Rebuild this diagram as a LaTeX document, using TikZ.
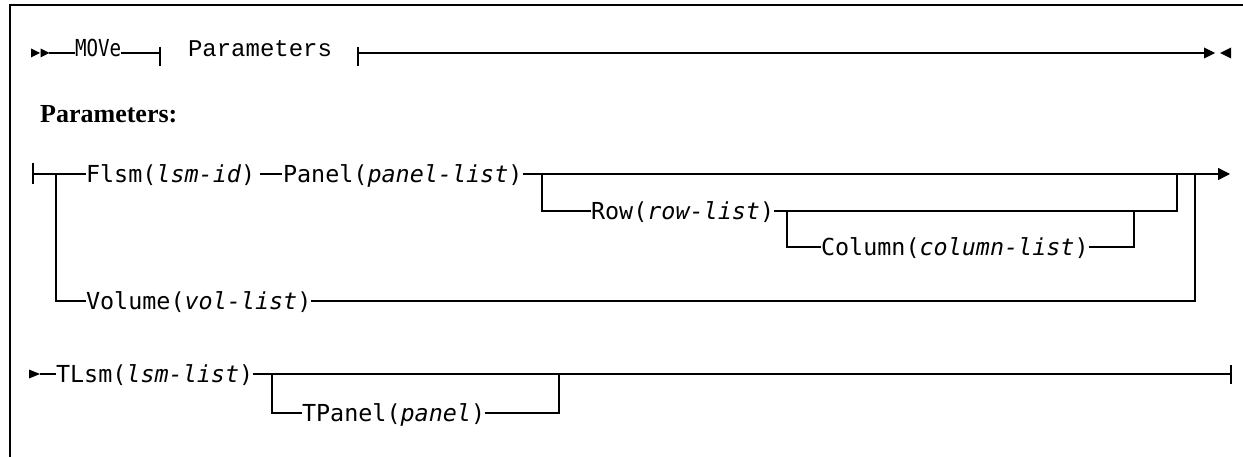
\documentclass[tikz,border=0pt]{standalone}
\usepackage{fontspec}
\setmainfont{Liberation Serif}
\newfontfamily\synfont{DejaVu Sans Mono}
\newfontfamily\cmdfont[FakeStretch=0.82]{DejaVu Sans Mono}
\newfontfamily\reffont{Liberation Mono}
\usetikzlibrary{arrows.meta}

\tikzset{
  syn/.style={inner sep=0pt, outer sep=0pt, text height=17pt, text depth=0pt,
    anchor=west, font=\synfont\fontsize{23.4}{28}\selectfont},
  cmd/.style={inner sep=0pt, outer sep=0pt, anchor=base west,
    font=\cmdfont\fontsize{23.4}{28}\selectfont},
  ref/.style={inner sep=0pt, outer sep=0pt, anchor=base west,
    font=\reffont\fontsize{24}{28}\selectfont},
  rail/.style={line width=1.3pt},
  bar/.style={line width=2pt},
}

\begin{document}
\begin{tikzpicture}[x=1pt, y=-1pt]
    \useasboundingbox (0,0) rectangle (1243,457);
    % Frame
    \draw[line width=2.4pt] (10,457) -- (10,5) -- (1243,5);
    % Main line
    \coordinate (go) at (49,53);
    \coordinate (lcall) at (160,53);
    \coordinate (rcall) at (358,53);
    \coordinate (stop) at (1204,53);
    \fill (31,48.5) -- (40,53) -- (31,57.5) -- cycle;
    \fill (40.5,48.5) -- (49.5,53) -- (40.5,57.5) -- cycle;
    \node[cmd] (move) at (75,56.5) {MOVe};
    \node[ref] (params) at (188,56.5) {Parameters};
    \draw[rail] (go) -- (move.west |- go);
    \draw[rail] (move.east |- go) -- (lcall);
    \draw[bar] (160,47) -- (160,66);
    \draw[bar] (358,47) -- (358,66);
    \draw[rail] (rcall) -- (stop);
    \fill (1204,47.5) -- (1215,53) -- (1204,58.5) -- cycle;
    \fill (1231,47.5) -- (1220,53) -- (1231,58.5) -- cycle;
    % Fragment title
    \node[anchor=base west, inner sep=0pt, font=\bfseries\fontsize{26}{30}\selectfont]
      (title) at (40,123) {Parameters:};
    % Fragment: first group
    \coordinate (in) at (33,174);
    \coordinate (split) at (56,174);
    \coordinate (psplit) at (542,174);
    \coordinate (rsplit) at (787,211);
    \coordinate (cjoin) at (1134,211);
    \coordinate (rjoin) at (1177,174);
    \coordinate (vjoin) at (1195,174);
    \coordinate (out) at (1230,174);
    \draw[bar] (33,163) -- (33,184);
    \node[syn] (flsm) at (86,174) {Flsm(\textit{lsm-id})};
    \node[syn] (panel) at (283,174) {Panel(\textit{panel-list})};
    \node[syn] (row) at (591,211) {Row(\textit{row-list})};
    \node[syn] (col) at (821,247) {Column(\textit{column-list})};
    \node[syn] (vol) at (86,301) {Volume(\textit{vol-list})};
    \draw[rail] (in) -- (flsm.west);
    \draw[rail, shorten <=5pt, shorten >=1pt] (flsm.east) -- (panel.west);
    \draw[rail, -{Triangle[length=12pt, width=12pt]}] (panel.east) -- (out);
    \draw[rail] (psplit) |- (row.west);
    \draw[rail] (row.east) -| (rjoin);
    \draw[rail] (rsplit) |- (col.west);
    \draw[rail] (col.east) -| (cjoin);
    \draw[rail] (split) |- (vol.west);
    \draw[rail] (vol.east) -| (vjoin);
    % Fragment: second group
    \coordinate (tin) at (40,374);
    \coordinate (tsplit) at (272,374);
    \coordinate (tjoin) at (559,374);
    \coordinate (tend) at (1231,374);
    \fill (29,369.5) -- (40,374) -- (29,378.5) -- cycle;
    \node[syn] (tlsm) at (56,374) {TLsm(\textit{lsm-list})};
    \node[syn] (tpanel) at (302,413) {TPanel(\textit{panel})};
    \draw[rail] (tin) -- (tlsm.west);
    \draw[rail] (tlsm.east) -- (tend);
    \draw[bar] (1231,365) -- (1231,384);
    \draw[rail] (tsplit) |- (tpanel.west);
    \draw[rail] (tpanel.east) -| (tjoin);
\end{tikzpicture}
\end{document}
